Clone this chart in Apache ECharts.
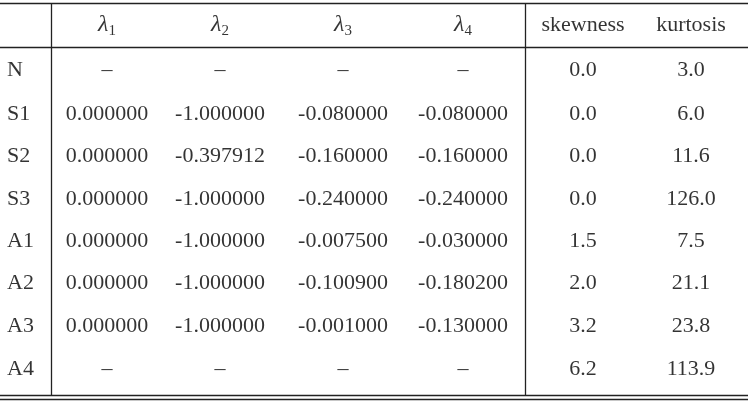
<!DOCTYPE html><html><head><meta charset="utf-8"><script src="https://cdn.jsdelivr.net/npm/echarts@6/dist/echarts.min.js"></script>
<style>html,body{margin:0;padding:0;background:#fff}#c{width:748px;height:402px}</style></head><body><div id="c"></div><script>
const headers = ['', 'λ1', 'λ2', 'λ3', 'λ4', 'skewness', 'kurtosis'];
const rowNames = ['N','S1','S2','S3','A1','A2','A3','A4'];
const lambda1 = ['–','0.000000','0.000000','0.000000','0.000000','0.000000','0.000000','–'];
const lambda2 = ['–','-1.000000','-0.397912','-1.000000','-1.000000','-1.000000','-1.000000','–'];
const lambda3 = ['–','-0.080000','-0.160000','-0.240000','-0.007500','-0.100900','-0.001000','–'];
const lambda4 = ['–','-0.080000','-0.160000','-0.240000','-0.030000','-0.180200','-0.130000','–'];
const skewness = ['0.0','0.0','0.0','0.0','1.5','2.0','3.2','6.2'];
const kurtosis = ['3.0','6.0','11.6','126.0','7.5','21.1','23.8','113.9'];

const colX = [7, 107, 220, 343, 463, 583, 691];
const rowY = [25, 70, 114, 156, 199, 241, 283, 326, 369];
const columns = [rowNames, lambda1, lambda2, lambda3, lambda4, skewness, kurtosis];
const font = 'Liberation Serif';
const data = [];
headers.forEach((h, c) => {
  if (!h) return;
  let label = h;
  if (h.startsWith('λ')) label = '{l|λ}{s|' + h.slice(1) + '}';
  data.push({value: [colX[c], rowY[0]], label: {formatter: label}});
});
columns.forEach((col, c) => col.forEach((v, r) => {
  data.push({value: [colX[c], rowY[r + 1]], label: {formatter: v, align: c === 0 ? 'left' : 'center'}});
}));
const seg = (x1, y1, x2, y2, w) => [{coord: [x1, y1], lineStyle: {color: '#222', width: w || 1.3, type: 'solid'}}, {coord: [x2, y2]}];
const chart = echarts.init(document.getElementById('c'));
chart.setOption({
  animation: false,
  grid: {left: 0, right: 0, top: 0, bottom: 0},
  xAxis: {type: 'value', min: 0, max: 748, show: false},
  yAxis: {type: 'value', min: 0, max: 402, inverse: true, show: false},
  series: [{
    type: 'scatter', symbolSize: 0, data: data,
    label: {show: true, position: 'inside', color: '#000', fontFamily: font, fontSize: 22,
      rich: {l: {fontStyle: 'italic', fontFamily: font, fontSize: 24, color: '#000'},
             s: {fontFamily: font, fontSize: 15, color: '#000', verticalAlign: 'bottom', padding: [12, 0, 0, 0]}}},
    markLine: {silent: true, symbol: 'none', label: {show: false}, animation: false,
      data: [seg(0, 3, 748, 3), seg(0, 47, 748, 47), seg(0, 395, 748, 395), seg(0, 399, 748, 399),
             seg(51, 3, 51, 395), seg(525, 3, 525, 395)]}
  }]
});
</script></body></html>
